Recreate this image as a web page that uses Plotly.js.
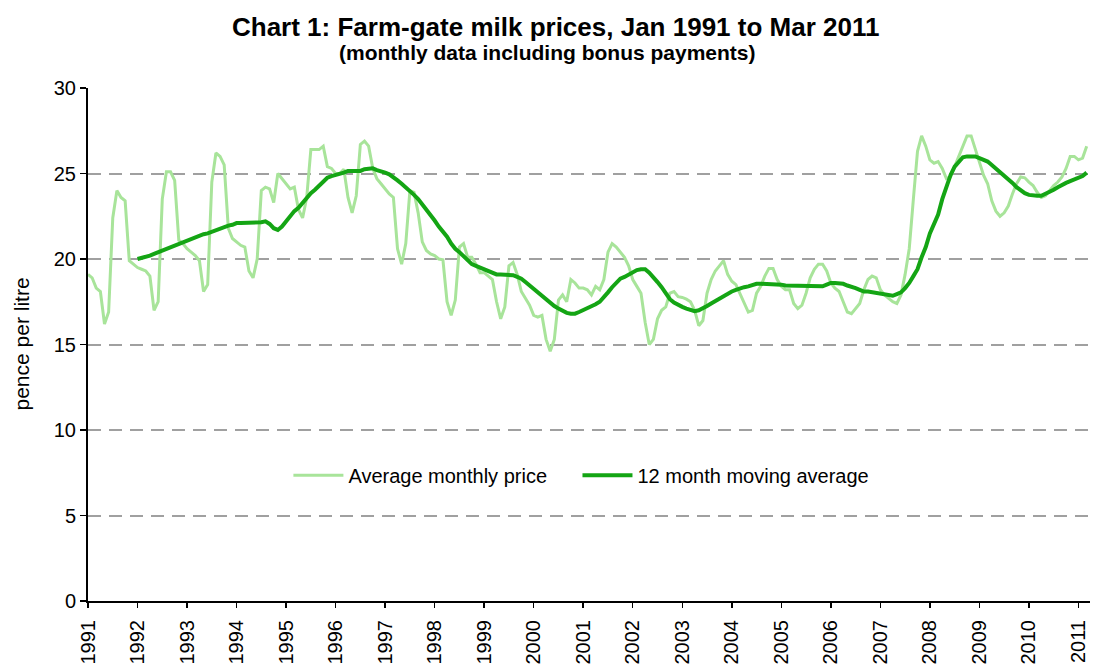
<!DOCTYPE html>
<html>
<head>
<meta charset="utf-8">
<script src="https://cdn.plot.ly/plotly-3.0.1.min.js"></script>
<style>html,body{margin:0;padding:0;background:#fff;}#chart{width:1093px;height:672px;}</style>
</head>
<body>
<div id="chart"></div>
<script>
// Monthly farm-gate milk price (pence per litre), Jan 1991 .. Mar 2011
const monthlyPrice = [
 19.1,18.9,18.3,18.1,16.2,16.9,22.4,24.0,23.6,23.4,19.9,19.7,
 19.5,19.4,19.3,19.0,17.0,17.5,23.5,25.1,25.1,24.6,21.1,20.9,
 20.6,20.4,20.2,19.9,18.1,18.5,24.5,26.2,26.0,25.5,21.8,21.2,
 21.0,20.8,20.7,19.3,18.9,20.0,24.0,24.2,24.1,23.3,25.0,24.7,
 24.4,24.1,24.2,22.9,22.4,23.6,26.4,26.4,26.4,26.6,25.4,25.3,
 25.0,25.0,25.25,23.6,22.7,23.7,26.7,26.9,26.6,25.3,24.7,24.4,
 24.1,23.8,23.6,20.6,19.7,20.9,24.0,23.9,22.7,21.0,20.5,20.3,
 20.2,20.0,19.95,17.5,16.7,17.6,20.7,20.9,20.1,20.1,19.7,19.2,
 19.2,19.0,18.8,17.5,16.5,17.2,19.6,19.8,19.1,18.1,17.7,17.3,
 16.7,16.6,16.7,15.3,14.6,15.3,17.6,17.9,17.5,18.8,18.6,18.3,
 18.3,18.2,17.9,18.4,18.2,18.8,20.4,20.9,20.7,20.4,20.1,19.6,
 18.8,18.4,18.0,16.3,15.0,15.3,16.5,17.0,17.2,18.0,18.1,17.8,
 17.75,17.65,17.5,17.0,16.1,16.4,18.0,18.8,19.3,19.6,19.9,19.1,
 18.7,18.5,18.0,17.5,16.9,17.0,18.0,18.4,19.0,19.45,19.45,18.8,
 18.4,18.2,18.2,17.4,17.1,17.3,18.0,18.9,19.4,19.7,19.7,19.3,
 18.6,18.3,18.1,17.5,16.9,16.8,17.1,17.4,18.2,18.8,19.0,18.9,
 18.2,17.9,17.7,17.5,17.4,17.9,19.1,20.6,23.5,26.3,27.2,26.6,
 25.8,25.6,25.7,25.3,24.7,24.8,25.4,26.0,26.6,27.2,27.2,26.4,
 25.7,24.9,24.4,23.4,22.8,22.5,22.7,23.1,23.8,24.4,24.8,24.75,
 24.5,24.3,23.9,23.6,23.7,24.0,24.3,24.5,24.8,25.3,26.0,26.0,
 25.8,25.9,26.6
];
// 12 month moving average, Dec 1991 .. Mar 2011
const movingAverage = [
 20.0,
 20.05,20.1,20.2,20.3,20.4,20.5,20.6,20.7,20.8,20.9,21.0,21.1,
 21.2,21.3,21.35,21.45,21.5,21.6,21.7,21.8,21.9,21.95,22.0,22.1,
 22.1,22.1,22.1,22.1,22.1,22.15,22.2,22.05,21.8,21.7,21.9,22.2,
 22.5,22.8,23.0,23.3,23.6,23.85,24.05,24.3,24.5,24.75,24.85,24.9,
 25.0,25.05,25.15,25.15,25.15,25.15,25.25,25.3,25.3,25.2,25.15,25.05,
 24.95,24.8,24.6,24.4,24.2,24.0,23.75,23.5,23.2,22.9,22.6,22.25,
 21.9,21.6,21.3,20.9,20.6,20.4,20.15,19.95,19.7,19.6,19.5,19.4,
 19.3,19.2,19.1,19.1,19.1,19.1,19.05,18.95,18.85,18.65,18.45,18.25,
 18.05,17.85,17.65,17.4,17.25,17.1,16.95,16.85,16.8,16.8,16.9,17.0,
 17.1,17.25,17.35,17.5,17.75,18.05,18.35,18.6,18.85,18.95,19.1,19.25,
 19.35,19.4,19.4,19.2,18.95,18.65,18.35,17.95,17.65,17.45,17.3,17.2,
 17.1,17.05,16.95,17.0,17.1,17.25,17.4,17.55,17.7,17.85,18.0,18.1,
 18.2,18.3,18.35,18.4,18.5,18.55,18.55,18.55,18.55,18.55,18.55,18.5,
 18.45,18.45,18.4,18.4,18.4,18.4,18.4,18.4,18.4,18.4,18.5,18.6,
 18.6,18.6,18.55,18.45,18.4,18.3,18.2,18.1,18.1,18.05,18.0,17.95,
 17.9,17.85,17.85,17.95,18.05,18.3,18.6,19.0,19.4,20.1,20.7,21.5,
 22.0,22.6,23.5,24.3,24.9,25.4,25.7,25.95,26.0,26.0,26.0,25.9,
 25.8,25.7,25.5,25.3,25.1,24.9,24.7,24.45,24.2,24.0,23.85,23.75,
 23.7,23.7,23.7,23.8,23.95,24.05,24.2,24.35,24.45,24.55,24.65,24.8,
 24.85,25.05
];
const yearLabels = ["1991","1992","1993","1994","1995","1996","1997","1998","1999","2000",
  "2001","2002","2003","2004","2005","2006","2007","2008","2009","2010","2011"];
const seriesNames = ["Average monthly price","12 month moving average"];
const titleText = "Chart 1: Farm-gate milk prices, Jan 1991 to Mar 2011";
const subtitleText = "(monthly data including bonus payments)";
const yTitle = "pence per litre";

const monthIdx = monthlyPrice.map((_, i) => i);
const maStart = monthlyPrice.length - movingAverage.length;
const maIdx = movingAverage.map((_, i) => i + maStart);
const yearTicks = yearLabels.map((_, i) => i * 12);

const FONT = "Arial, 'Liberation Sans', sans-serif";

const traces = [
  {x: monthIdx, y: monthlyPrice, type: 'scatter', mode: 'lines', name: seriesNames[0],
   line: {color: '#a8e49a', width: 3}, legend: 'legend'},
  {x: maIdx, y: movingAverage, type: 'scatter', mode: 'lines', name: seriesNames[1],
   line: {color: '#14a514', width: 4}, legend: 'legend2'}
];

const legendStyle = (x) => ({orientation: 'h', x: x, xanchor: 'left', y: 0.245, yanchor: 'middle',
    font: {family: FONT, size: 20, color: '#000'}, bgcolor: 'rgba(0,0,0,0)', itemwidth: 50});

const layout = {
  width: 1093, height: 672,
  margin: {l: 88, r: 3, t: 88, b: 71},
  paper_bgcolor: '#fff', plot_bgcolor: '#fff',
  font: {family: FONT, color: '#000', size: 20},
  showlegend: true,
  legend: legendStyle(0.2),
  legend2: legendStyle(0.4885),
  xaxis: {range: [0, 242.8], tickmode: 'array', tickvals: yearTicks, ticktext: yearLabels,
    tickangle: -90, ticks: 'outside', ticklen: 5, tickwidth: 1.5, tickcolor: '#000',
    ticklabelstandoff: 4,
    showline: true, linecolor: '#000', linewidth: 2, showgrid: false, zeroline: false,
    tickfont: {family: FONT, size: 20, color: '#000'}, fixedrange: true},
  yaxis: {range: [0, 30], tickmode: 'linear', tick0: 0, dtick: 5,
    ticks: 'outside', ticklen: 6, tickwidth: 1.5, tickcolor: '#000',
    showline: true, linecolor: '#000', linewidth: 2, zeroline: false,
    showgrid: true, gridcolor: '#a0a0a0', gridwidth: 2, griddash: '13px,8px',
    tickfont: {family: FONT, size: 20, color: '#000'}, fixedrange: true},
  annotations: [
    {text: '<b>' + titleText + '</b>', xref: 'paper', yref: 'paper', x: 0.467, y: 1.119,
     xanchor: 'center', yanchor: 'middle', showarrow: false, font: {family: FONT, size: 26, color: '#000'}},
    {text: '<b>' + subtitleText + '</b>', xref: 'paper', yref: 'paper', x: 0.459, y: 1.070,
     xanchor: 'center', yanchor: 'middle', showarrow: false, font: {family: FONT, size: 21, color: '#000'}},
    {text: yTitle, xref: 'paper', yref: 'paper', x: 0, xshift: -67, y: 0.5, textangle: -90,
     xanchor: 'center', yanchor: 'middle', showarrow: false, font: {family: FONT, size: 21, color: '#000'}}
  ]
};

Plotly.newPlot('chart', traces, layout, {displayModeBar: false, staticPlot: true});
</script>
</body>
</html>
